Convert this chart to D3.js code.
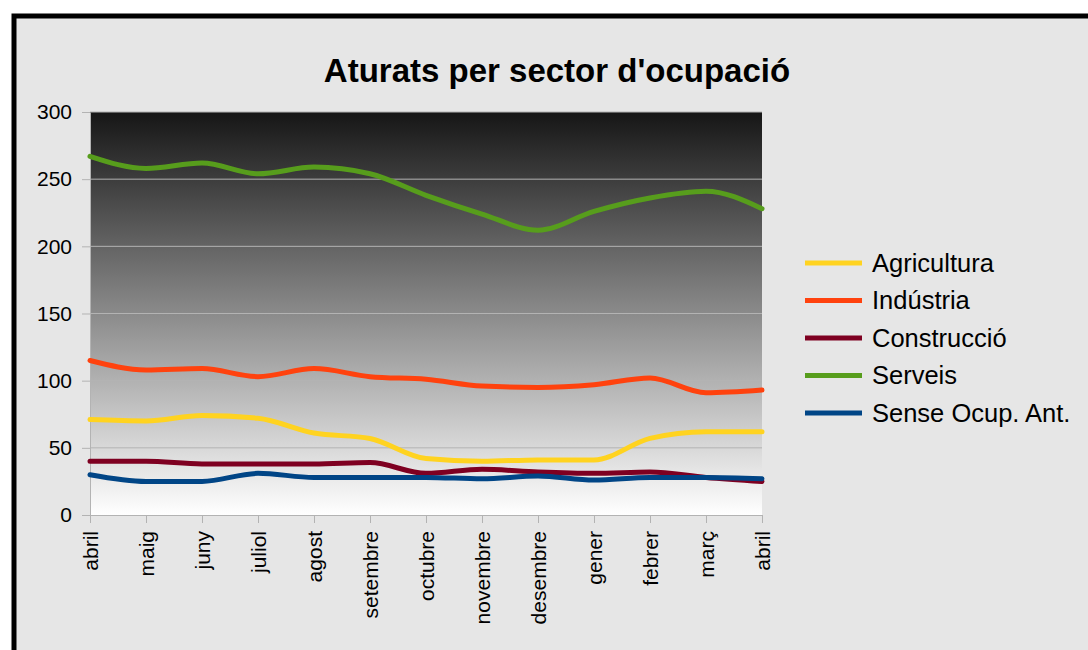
<!DOCTYPE html>
<html><head><meta charset="utf-8">
<script src="https://cdn.jsdelivr.net/npm/d3@7"></script>
<style>body{margin:0;background:#fff;font-family:"Liberation Sans",Arial,sans-serif}</style>
</head><body><svg id="chart"></svg>
<script>
const months = ['abril','maig','juny','juliol','agost','setembre','octubre','novembre','desembre','gener','febrer','març','abril'];
const agricultura = [71,70,74,72,61,57,42,40,41,41,57,62,62];
const industria = [115,108,109,103,109,103,101,96,95,97,102,91,93];
const construccio = [40,40,38,38,38,39,31,34,32,31,32,28,25];
const serveis = [267,258,262,254,259,254,238,224,212,226,236,241,228];
const senseOcup = [30,25,25,31,28,28,28,27,29,26,28,28,27];
const seriesNames = ['Agricultura','Indústria','Construcció','Serveis','Sense Ocup. Ant.'];
const seriesColors = ['#ffd320','#ff420e','#7e0021','#579d1c','#004586'];
const seriesValues = [agricultura, industria, construccio, serveis, senseOcup];
const yTicks = [0,50,100,150,200,250,300];

const W = 1088, H = 650;
const svg = d3.select('#chart').attr('width', W).attr('height', H);

// outer panel
svg.append('rect').attr('x', 14).attr('y', 16).attr('width', W).attr('height', H)
  .attr('fill', '#e6e6e6').attr('stroke', '#000').attr('stroke-width', 5);

svg.append('text').attr('x', 557).attr('y', 82).attr('text-anchor', 'middle')
  .attr('font-size', 33).attr('font-weight', 'bold').text("Aturats per sector d'ocupació");

const plot = {x0: 90, x1: 762, y0: 112, y1: 515};
const x = d3.scalePoint().domain(d3.range(months.length)).range([plot.x0, plot.x1]);
const y = d3.scaleLinear().domain([0, 300]).range([plot.y1, plot.y0]);

const defs = svg.append('defs');
const grad = defs.append('linearGradient').attr('id', 'bg').attr('x1', 0).attr('y1', 0).attr('x2', 0).attr('y2', 1);
grad.append('stop').attr('offset', '0%').attr('stop-color', '#161616');
grad.append('stop').attr('offset', '100%').attr('stop-color', '#ffffff');
svg.append('rect').attr('x', plot.x0).attr('y', plot.y0)
  .attr('width', plot.x1 - plot.x0).attr('height', plot.y1 - plot.y0).attr('fill', 'url(#bg)');

// grid
svg.append('g').selectAll('line').data(yTicks.slice(1)).join('line')
  .attr('x1', plot.x0).attr('x2', plot.x1).attr('y1', d => y(d)).attr('y2', d => y(d))
  .attr('stroke', '#b3b3b3').attr('stroke-width', 1);

// y axis
const yAxis = svg.append('g').attr('transform', `translate(${plot.x0},0)`)
  .call(d3.axisLeft(y).tickValues(yTicks).tickSize(0).tickPadding(18));
yAxis.select('.domain').attr('stroke', '#b3b3b3');
yAxis.selectAll('text').attr('font-size', 21).attr('fill', '#000')
  .attr('font-family', '"Liberation Sans",Arial,sans-serif');
yAxis.selectAll('.tick').append('line').attr('x1', -8).attr('x2', 0).attr('stroke', '#b3b3b3');

// x axis
const xAxis = svg.append('g').attr('transform', `translate(0,${plot.y1})`)
  .call(d3.axisBottom(x).tickFormat(i => months[i]).tickSize(8).tickPadding(6));
xAxis.select('.domain').attr('stroke', '#b3b3b3');
xAxis.selectAll('line').attr('stroke', '#b3b3b3');
xAxis.selectAll('text').attr('font-size', 21).attr('fill', '#000')
  .attr('font-family', '"Liberation Sans",Arial,sans-serif')
  .attr('transform', 'rotate(-90)').attr('text-anchor', 'end')
  .attr('x', -16).attr('y', 0).attr('dy', '0.35em');

// lines
const line = d3.line().x((d, i) => x(i)).y(d => y(d)).curve(d3.curveMonotoneX);
seriesValues.forEach((vals, k) => {
  svg.append('path').datum(vals).attr('d', line).attr('fill', 'none')
    .attr('stroke', seriesColors[k]).attr('stroke-width', 5).attr('stroke-linecap', 'round');
});

// legend
const lg = svg.append('g');
seriesNames.forEach((n, i) => {
  const ly = 263 + i * 37.5;
  lg.append('line').attr('x1', 805).attr('x2', 862).attr('y1', ly).attr('y2', ly)
    .attr('stroke', seriesColors[i]).attr('stroke-width', 5);
  lg.append('text').attr('x', 872).attr('y', ly).attr('dy', '0.35em')
    .attr('font-size', 25.5).text(n);
});
</script></body></html>
